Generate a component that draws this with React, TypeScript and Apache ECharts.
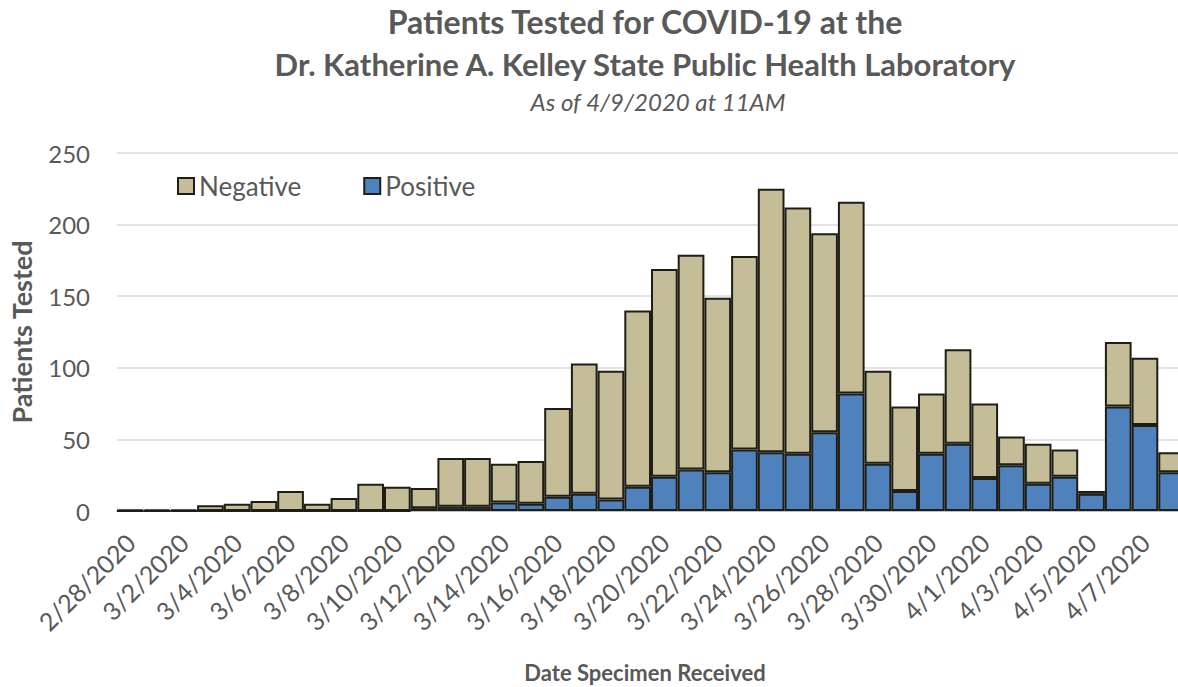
import { useEffect, useRef } from "react";
import * as echarts from "echarts";

const dates = [
  "2/28/2020", "3/1/2020", "3/2/2020", "3/3/2020", "3/4/2020", "3/5/2020", "3/6/2020", "3/7/2020",
  "3/8/2020", "3/9/2020", "3/10/2020", "3/11/2020", "3/12/2020", "3/13/2020", "3/14/2020", "3/15/2020",
  "3/16/2020", "3/17/2020", "3/18/2020", "3/19/2020", "3/20/2020", "3/21/2020", "3/22/2020", "3/23/2020",
  "3/24/2020", "3/25/2020", "3/26/2020", "3/27/2020", "3/28/2020", "3/29/2020", "3/30/2020", "3/31/2020",
  "4/1/2020", "4/2/2020", "4/3/2020", "4/4/2020", "4/5/2020", "4/6/2020", "4/7/2020", "4/8/2020",
];

const positive = [
  0, 0, 0, 0, 0, 0, 0, 0, 0, 0, 0, 2, 3, 3, 6, 5, 10, 12, 8, 17,
  24, 29, 27, 43, 41, 40, 55, 82, 33, 14, 40, 47, 23, 32, 19, 24, 12, 73, 60, 27,
];

const negative = [
  1, 1, 1, 4, 5, 7, 14, 5, 9, 19, 17, 14, 34, 34, 27, 30, 62, 91, 90, 123,
  145, 150, 122, 135, 184, 172, 139, 134, 65, 59, 42, 66, 52, 20, 28, 19, 2, 45, 47, 14,
];

const yTicks = { min: 0, max: 250, interval: 50 };

const titleLine1 = "Patients Tested for COVID-19 at the";
const titleLine2 = "Dr. Katherine A. Kelley State Public Health Laboratory";
const subtitle = "As of 4/9/2020 at 11AM";

const FONT = "Lato";
const GRAY = "#595959";
const BORDER = "#1e1e16";

export default function App() {
  const ref = useRef<HTMLDivElement>(null);

  useEffect(() => {
    if (!ref.current) return;
    const chart = echarts.init(ref.current, undefined, { renderer: "svg" });
    chart.setOption({
      animation: false,
      backgroundColor: "#ffffff",
      title: [
        {
          text: titleLine1,
          left: 645,
          top: 5,
          padding: 0,
          textAlign: "center",
          textStyle: { fontFamily: FONT, fontSize: 32, fontWeight: "bold", color: GRAY },
        },
        {
          text: titleLine2,
          left: 645,
          top: 48,
          padding: 0,
          textAlign: "center",
          textStyle: { fontFamily: FONT, fontSize: 31, fontWeight: "bold", color: GRAY },
        },
        {
          text: subtitle,
          left: 658,
          top: 89,
          padding: 0,
          textAlign: "center",
          textStyle: { fontFamily: FONT, fontSize: 24, fontStyle: "italic", fontWeight: "normal", color: GRAY },
        },
      ],
      legend: {
        data: ["Negative", "Positive"],
        left: 177,
        top: 173,
        padding: 0,
        icon: "rect",
        itemWidth: 16,
        itemHeight: 16,
        itemGap: 62,
        textStyle: { fontFamily: FONT, fontSize: 26, color: GRAY },
      },
      grid: {
        left: 117,
        top: 153,
        width: 1068,
        height: 358,
        containLabel: false,
        outerBoundsMode: "none",
      },
      xAxis: {
        type: "category",
        data: dates,
        boundaryGap: true,
        name: "Date Specimen Received",
        nameLocation: "middle",
        nameGap: 150,
        nameTextStyle: {
          fontFamily: FONT,
          fontSize: 22,
          fontWeight: "bold",
          color: GRAY,
          padding: [0, 12, 0, 0],
        },
        axisLine: { show: true, lineStyle: { color: "#bfbfbf", width: 2 } },
        axisTick: { show: true, interval: 0, length: 4, inside: true, lineStyle: { color: "#d9d9d9" } },
        axisLabel: {
          interval: 1,
          rotate: 45,
          margin: 27,
          fontFamily: FONT,
          fontSize: 25,
          color: GRAY,
        },
      },
      yAxis: {
        type: "value",
        min: yTicks.min,
        max: yTicks.max,
        interval: yTicks.interval,
        name: "Patients Tested",
        nameLocation: "middle",
        nameRotate: 90,
        nameGap: 82,
        nameTextStyle: { fontFamily: FONT, fontSize: 27, fontWeight: "bold", color: GRAY },
        axisLine: { show: false },
        axisTick: { show: false },
        splitLine: { lineStyle: { color: "#d9d9d9", width: 1.5 } },
        axisLabel: { margin: 27, fontFamily: FONT, fontSize: 24, color: GRAY },
      },
      series: [
        {
          name: "Positive",
          type: "bar",
          stack: "total",
          data: positive,
          barCategoryGap: "0%",
          itemStyle: { color: "#4f81bd", borderColor: BORDER, borderWidth: 2 },
        },
        {
          name: "Negative",
          type: "bar",
          stack: "total",
          data: negative,
          barCategoryGap: "0%",
          itemStyle: { color: "#c4bd97", borderColor: BORDER, borderWidth: 2 },
        },
      ],
    });
    return () => chart.dispose();
  }, []);

  return (
    <div
      ref={ref}
      style={{ position: "fixed", left: 0, top: 0, width: 1178, height: 687, overflow: "hidden", background: "#fff" }}
    />
  );
}
